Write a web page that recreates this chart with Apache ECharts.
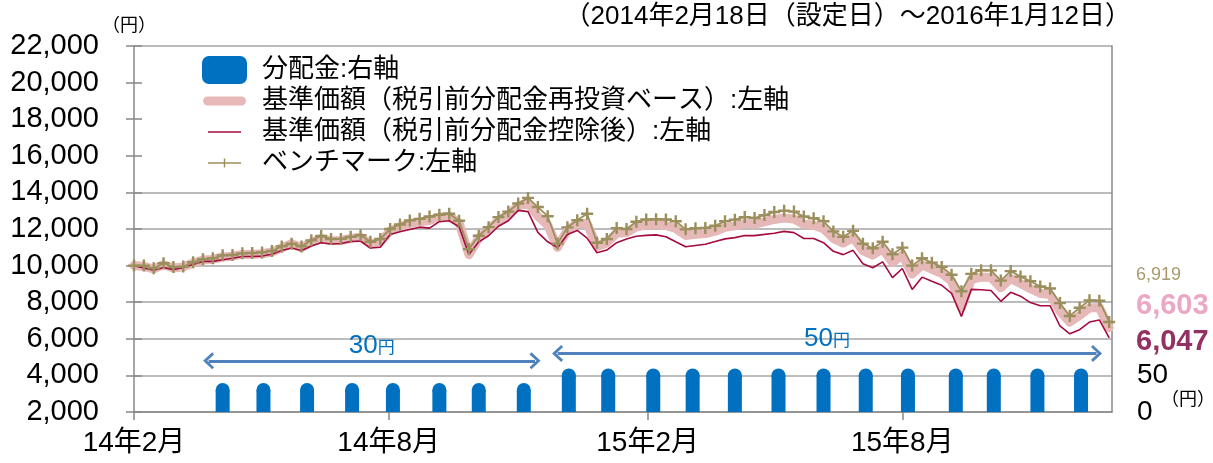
<!DOCTYPE html>
<html>
<head>
<meta charset="utf-8">
<script src="https://cdn.jsdelivr.net/npm/echarts@6/dist/echarts.min.js"></script>
<style>
html,body{margin:0;padding:0;background:#fff;}
#c{width:1213px;height:463px;}
</style>
</head>
<body>
<div id="c"></div>
<script>
// ---- data ----
const weekDates = [
'2014-02-18','2014-02-25','2014-03-04','2014-03-11','2014-03-18','2014-03-25','2014-04-01','2014-04-08','2014-04-15','2014-04-22',
'2014-04-29','2014-05-06','2014-05-13','2014-05-20','2014-05-27','2014-06-03','2014-06-10','2014-06-17','2014-06-24','2014-07-01',
'2014-07-08','2014-07-15','2014-07-22','2014-07-29','2014-08-05','2014-08-12','2014-08-19','2014-08-26','2014-09-02','2014-09-09',
'2014-09-16','2014-09-23','2014-09-30','2014-10-07','2014-10-14','2014-10-21','2014-10-28','2014-11-04','2014-11-11','2014-11-18',
'2014-11-25','2014-12-02','2014-12-09','2014-12-16','2014-12-23','2014-12-30','2015-01-06','2015-01-13','2015-01-20','2015-01-27',
'2015-02-03','2015-02-10','2015-02-17','2015-02-24','2015-03-03','2015-03-10','2015-03-17','2015-03-24','2015-03-31','2015-04-07',
'2015-04-14','2015-04-21','2015-04-28','2015-05-05','2015-05-12','2015-05-19','2015-05-26','2015-06-02','2015-06-09','2015-06-16',
'2015-06-23','2015-06-30','2015-07-07','2015-07-14','2015-07-21','2015-07-28','2015-08-04','2015-08-11','2015-08-18','2015-08-25',
'2015-09-01','2015-09-08','2015-09-15','2015-09-22','2015-09-29','2015-10-06','2015-10-13','2015-10-20','2015-10-27','2015-11-03',
'2015-11-10','2015-11-17','2015-11-24','2015-12-01','2015-12-08','2015-12-15','2015-12-22','2015-12-29','2016-01-05','2016-01-12'
];
const benchmark = [
10000,10000,9850,10130,9920,9945,10185,10350,10400,10560,
10580,10670,10690,10720,10800,11050,11200,11050,11380,11620,
11450,11460,11570,11660,11300,11450,12000,12250,12470,12555,
12680,12780,12830,12450,10900,11630,12100,12650,12950,13390,
13700,13200,12700,11200,12090,12480,12833,11250,11450,12050,
12000,12400,12520,12530,12520,12420,11980,12037,12060,12180,
12430,12510,12650,12600,12760,12925,13000,12950,12680,12590,
12420,11870,11570,11900,11200,10950,11300,10620,10980,10000,
10400,10160,9930,9500,8600,9550,9750,9740,9180,9700,
9400,9150,8860,8750,7950,7250,7700,8100,8080,6919
];
const navReinvest = [
10000,9955,9815,10050,9870,9930,10140,10310,10340,10475,
10515,10610,10625,10650,10740,10970,11200,10975,11270,11490,
11355,11370,11480,11550,11180,11290,11895,12110,12295,12395,
12460,12650,12700,12335,10600,11515,11935,12475,12775,13260,
13440,12700,12210,11000,11950,12285,12300,11050,11240,11770,
11810,12120,12215,12230,12190,12030,11650,11710,11750,11880,
12090,12170,12300,12265,12390,12520,12600,12550,12260,12200,
12010,11490,11230,11530,10815,10575,10920,10175,10580,9545,
10040,9800,9580,9140,7700,9250,9375,9355,8785,9295,
9025,8740,8490,8420,7510,6910,7280,7685,7710,6603
];
const navAfterDist = [
10000,9871,9750,9900,9780,9900,10060,10230,10230,10320,
10400,10500,10500,10520,10620,10820,10960,10830,11070,11250,
11180,11210,11320,11345,10960,11000,11700,11850,11970,12100,
12050,12400,12450,12120,10600,11300,11630,12150,12450,13020,
12950,11815,11300,10981,11700,11920,11500,10700,10850,11250,
11450,11600,11650,11680,11580,11300,11030,11100,11170,11320,
11460,11530,11640,11640,11704,11770,11870,11800,11480,11481,
11250,10778,10600,10833,10100,9880,10207,9347,9840,8700,
9370,9140,8926,8480,7225,8700,8680,8640,8050,8540,
8330,7980,7810,7810,6700,6273,6500,6914,7030,6047
];
const distDates = [
'2014-04-22','2014-05-21','2014-06-21','2014-07-23','2014-08-21','2014-09-23','2014-10-21','2014-11-22',
'2014-12-24','2015-01-21','2015-02-22','2015-03-22','2015-04-21','2015-05-22','2015-06-23','2015-07-23',
'2015-08-22','2015-09-25','2015-10-22','2015-11-22','2015-12-23'
];
const distValues = [30,30,30,30,30,30,30,30,50,50,50,50,50,50,50,50,50,50,50,50,50];
const tickDates = ['2014-02-18','2014-08-18','2015-02-18','2015-08-18'];
const tickLabels = ['14年2月','14年8月','15年2月','15年8月'];
const leftLabels = [2000,4000,6000,8000,10000,12000,14000,16000,18000,20000,22000];
const gridValues = [2000,4000,6000,8000,10000,12000,14000,22000];
const endValues = {benchmark: '6,919', reinvest: '6,603', after: '6,047'};
const seriesNames = ['分配金:右軸','基準価額（税引前分配金再投資ベース）:左軸','基準価額（税引前分配金控除後）:左軸','ベンチマーク:左軸'];
const arrow30 = {from:'2014-04-12', to:'2014-11-30', y:4800, text:'30'};
const arrow50 = {from:'2014-12-16', to:'2016-01-03', y:5200, text:'50'};

// ---- chart ----
const FONT = "'Liberation Sans', 'Noto Sans CJK JP', sans-serif";
const ts = d => Date.UTC(+d.slice(0,4), +d.slice(5,7) - 1, +d.slice(8,10));
const tickTs = tickDates.map(ts);
const zip = (xs, ys) => xs.map((x, i) => [ts(x), ys[i]]);
const plusPath = 'path://M4,0 H6 V4 H10 V6 H6 V10 H4 V6 H0 V4 H4 Z';
const BOX = 'M0,0 L0.01,0 Z M45,28 L44.99,28 Z ';
const pinkLegend = 'path://' + BOX + 'M5.5,9.5 H39.5 A4.5,4.5 0 0 1 39.5,18.5 H5.5 A4.5,4.5 0 0 1 5.5,9.5 Z';
const redLegend = 'path://' + BOX + 'M6,13.3 H39 V14.7 H6 Z';
const oliveLegend = 'path://' + BOX + 'M6,13.3 H18.5 V13.3 H21.8 V9.5 H23.2 V13.3 H26.5 V13.3 H39 V14.7 H26.5 V14.7 H23.2 V18.5 H21.8 V14.7 H18.5 V14.7 H6 Z';
const chevron = 'path://M0,10 L10,0 L20,10 L17.5,12 L10,4.5 L2.5,12 Z';
const AXIS = '#888';

function arrowLine(a) {
  return [
    {coord: [ts(a.from), a.y], label: {show: true, position: 'middle', distance: 2,
      formatter: '{a|' + a.text + '}{b|円}',
      rich: {a: {fontSize: 26, color: '#0070C0', fontFamily: FONT},
             b: {fontSize: 17, color: '#0070C0', fontFamily: FONT, padding: [6, 0, 0, 0]}}}},
    {coord: [ts(a.to), a.y]}
  ];
}

const chart = echarts.init(document.getElementById('c'));
chart.setOption({
  animation: false,
  textStyle: {fontFamily: FONT},
  grid: {left: 134, right: 101, top: 46, bottom: 51, containLabel: false},
  legend: {
    data: [
      {name: seriesNames[0], icon: 'roundRect'},
      {name: seriesNames[1], icon: pinkLegend},
      {name: seriesNames[2], icon: redLegend},
      {name: seriesNames[3], icon: oliveLegend}
    ],
    orient: 'vertical', left: 202, top: 56,
    itemWidth: 45, itemHeight: 28, itemGap: 3, padding: 0,
    textStyle: {fontSize: 26, color: '#000', fontFamily: FONT, padding: [0, 0, 0, 10]}
  },
  xAxis: {
    type: 'value',
    min: ts('2014-02-18'), max: ts('2016-01-14'),
    axisLine: {show: true, onZero: false, lineStyle: {color: AXIS, width: 1.5}},
    axisTick: {show: true, customValues: tickTs, length: 8, lineStyle: {color: AXIS, width: 1.5}},
    axisLabel: {
      customValues: tickTs, fontSize: 28, color: '#000', margin: 17, fontFamily: FONT,
      formatter: v => {
        let best = -1, bd = Infinity;
        tickTs.forEach((t, i) => { const d = Math.abs(t - v); if (d < bd) { bd = d; best = i; } });
        return bd < 86400000 * 3 ? tickLabels[best] : '';
      }
    },
    splitLine: {show: false}
  },
  yAxis: [
    {
      type: 'value', position: 'left', min: 2000, max: 22000, interval: 2000,
      axisLine: {show: true, lineStyle: {color: AXIS, width: 1.5}},
      axisTick: {show: false, customValues: gridValues},
      axisLabel: {fontSize: 29, color: '#000', margin: 35, fontFamily: FONT,
        customValues: leftLabels,
        formatter: v => v.toLocaleString('en-US')},
      splitLine: {show: true, lineStyle: {color: '#a6a6a6', width: 1.5}}
    },
    {
      type: 'value', position: 'right', min: 0, max: 500, interval: 50,
      axisLine: {show: true, lineStyle: {color: AXIS, width: 1.5}},
      axisTick: {show: false},
      axisLabel: {fontSize: 28, color: '#000', margin: 25, fontFamily: FONT,
        formatter: v => (v === 0 || v === 50) ? String(v) : ''},
      splitLine: {show: false}
    },
    {
      type: 'value', position: 'left', min: 2000, max: 22000, interval: 2000,
      axisLine: {show: false},
      axisTick: {show: true, inside: true, length: 8, lineStyle: {color: AXIS, width: 1.5}},
      axisLabel: {show: false},
      splitLine: {show: false}
    },
    {
      type: 'value', position: 'left', min: 2000, max: 22000, interval: 2000,
      axisLine: {show: false},
      axisTick: {show: true, inside: false, length: 8, lineStyle: {color: AXIS, width: 1.5}},
      axisLabel: {show: false},
      splitLine: {show: false}
    }
  ],
  series: [
    {
      name: seriesNames[0], type: 'bar', yAxisIndex: 1, barWidth: 14,
      itemStyle: {color: '#0070C0'},
      data: zip(distDates, distValues), z: 2
    },
    {
      name: 'cap', type: 'scatter', yAxisIndex: 1, symbol: 'circle', symbolSize: 14,
      itemStyle: {color: '#0070C0', opacity: 1}, silent: true,
      data: zip(distDates, distValues), z: 2
    },
    {
      name: seriesNames[1], type: 'line', yAxisIndex: 0, showSymbol: false, symbol: 'none',
      lineStyle: {color: '#E6B8B7', width: 9, cap: 'round', join: 'round'},
      itemStyle: {color: '#E6B8B7'},
      data: zip(weekDates, navReinvest), z: 3,
      markLine: {
        silent: true, symbol: [chevron, chevron], symbolSize: [17, 11],
        lineStyle: {color: '#4F81BD', width: 3, type: 'solid'},
        data: [arrowLine(arrow30), arrowLine(arrow50)]
      }
    },
    {
      name: seriesNames[2], type: 'line', yAxisIndex: 0, showSymbol: false, symbol: 'none',
      lineStyle: {color: '#A50B3E', width: 1.6},
      itemStyle: {color: '#A50B3E'},
      data: zip(weekDates, navAfterDist), z: 4
    },
    {
      name: seriesNames[3], type: 'line', yAxisIndex: 0, showSymbol: true, symbol: plusPath, symbolSize: 12,
      lineStyle: {color: '#9C8F5E', width: 1.8},
      itemStyle: {color: '#9C8F5E'},
      data: zip(weekDates, benchmark), z: 5
    }
  ],
  graphic: [
    {type: 'text', left: 102, top: 17, style: {text: '（円）', fontSize: 18, fill: '#000', fontFamily: FONT}},
    {type: 'text', right: 82, top: 4, style: {text: '（2014年2月18日（設定日）～2016年1月12日）', fontSize: 26, fill: '#000', fontFamily: FONT}},
    {type: 'text', left: 1136, top: 266, style: {text: endValues.benchmark, fontSize: 18, fill: '#A99A6C', fontFamily: FONT}},
    {type: 'text', left: 1136, top: 291, style: {text: endValues.reinvest, fontSize: 29, fontWeight: 'bold', fill: '#EBA8C6', fontFamily: FONT}},
    {type: 'text', left: 1136, top: 327, style: {text: endValues.after, fontSize: 29, fontWeight: 'bold', fill: '#933262', fontFamily: FONT}},
    {type: 'text', left: 1161, top: 391, style: {text: '（円）', fontSize: 18, fill: '#000', fontFamily: FONT}}
  ]
});
</script>
</body>
</html>
